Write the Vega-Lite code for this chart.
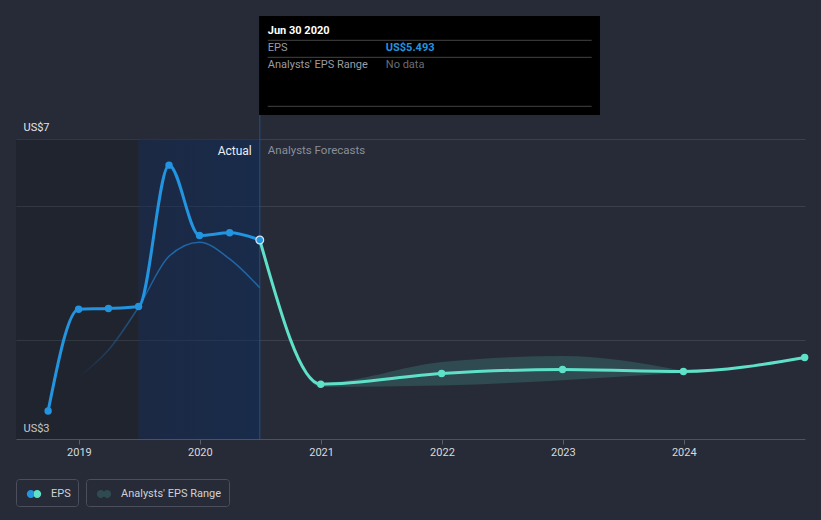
{
  "$schema": "https://vega.github.io/schema/vega-lite/v6.json",
  "autosize": {"type": "none"},
  "width": 789,
  "height": 423,
  "padding": {"left": 16, "top": 16, "right": 16, "bottom": 81},
  "background": "#262b37",
  "config": {
    "view": {"stroke": null},
    "font": "Roboto",
    "axisX": {
      "domainColor": "#4d525e",
      "tickColor": "#5a5f6a",
      "tickSize": 5,
      "labelColor": "#d7d9de",
      "labelFontSize": 11,
      "labelPadding": 2,
      "grid": false,
      "zindex": 1
    },
    "axisY": {
      "domain": false,
      "ticks": false,
      "tickSize": 0,
      "grid": true,
      "labelAlign": "left",
      "labelBaseline": "bottom",
      "labelPadding": -7,
      "labelOffset": -6,
      "labelColor": "#e4e6ea",
      "labelFontSize": 11
    },
    "legend": {
      "orient": "none",
      "direction": "horizontal",
      "strokeColor": "#4a4f5b",
      "cornerRadius": 3,
      "padding": 7,
      "labelColor": "#cfd1d6",
      "labelFontSize": 11,
      "labelFont": "Roboto",
      "labelOffset": 9,
      "symbolStrokeWidth": 0
    }
  },
  "datasets": {
    "actual": [
      {"date": "2018-09-30", "eps": 2.94},
      {"date": "2018-12-31", "eps": 4.46},
      {"date": "2019-03-31", "eps": 4.47},
      {"date": "2019-06-30", "eps": 4.5},
      {"date": "2019-09-30", "eps": 6.61},
      {"date": "2019-12-31", "eps": 5.56},
      {"date": "2020-03-31", "eps": 5.6},
      {"date": "2020-06-30", "eps": 5.493}
    ],
    "forecast": [
      {"date": "2020-06-30", "eps": 5.493},
      {"date": "2020-12-31", "eps": 3.34},
      {"date": "2021-12-31", "eps": 3.5},
      {"date": "2022-12-31", "eps": 3.56},
      {"date": "2023-12-31", "eps": 3.53},
      {"date": "2024-12-31", "eps": 3.74}
    ],
    "range": [
      {"date": "2020-06-30", "low": 5.493, "high": 5.493},
      {"date": "2020-12-31", "low": 3.3, "high": 3.36},
      {"date": "2021-12-31", "low": 3.32, "high": 3.67},
      {"date": "2022-12-31", "low": 3.4, "high": 3.76},
      {"date": "2023-12-31", "low": 3.51, "high": 3.54}
    ],
    "past": [
      {"date": "2018-12-31", "eps": 3.45},
      {"date": "2019-03-31", "eps": 3.85},
      {"date": "2019-06-30", "eps": 4.49},
      {"date": "2019-09-30", "eps": 5.25},
      {"date": "2019-12-31", "eps": 5.46},
      {"date": "2020-03-31", "eps": 5.21},
      {"date": "2020-06-30", "eps": 4.78}
    ],
    "periods": [
      {"date": "2018-06-25", "date_end": "2019-06-30", "period": "older"},
      {"date": "2019-06-30", "date_end": "2020-06-30", "period": "last year"}
    ],
    "hover": [
      {"date": "2020-06-30", "eps": 5.493}
    ]
  },
  "layer": [
    {
      "data": {"name": "periods"},
      "transform": [{"filter": "datum.period == 'older'"}],
      "mark": {"type": "rect", "color": "#000000", "opacity": 0.14},
      "encoding": {
        "x": {
          "field": "date", "type": "temporal",
          "scale": {"type": "utc", "domain": [{"year": 2018, "month": 6, "date": 25, "utc": true}, {"year": 2025, "month": 1, "date": 1, "utc": true}]},
          "axis": {
            "title": null,
            "format": "%Y",
            "values": [{"year": 2019, "utc": true}, {"year": 2020, "utc": true}, {"year": 2021, "utc": true}, {"year": 2022, "utc": true}, {"year": 2023, "utc": true}, {"year": 2024, "utc": true}]
          }
        },
        "x2": {"field": "date_end"},
        "y": {
          "datum": 7, "type": "quantitative",
          "scale": {"domain": [2.5224, 8.8358], "nice": false, "zero": false},
          "axis": {
            "title": null,
            "values": [2.5224, 4, 6, 7],
            "labelExpr": "datum.value >= 6.9 ? 'US$7' : (datum.value < 3 ? 'US$3' : '')",
            "gridColor": {"condition": {"test": "datum.value < 3", "value": "transparent"}, "value": "#3b404c"}
          }
        },
        "y2": {"datum": 2.5224}
      }
    },
    {
      "data": {"name": "periods"},
      "transform": [{"filter": "datum.period == 'last year'"}],
      "mark": {
        "type": "rect",
        "opacity": 0.5,
        "color": {"gradient": "linear", "x1": 0, "y1": 0, "x2": 1, "y2": 0, "stops": [{"offset": 0, "color": "#112650"}, {"offset": 1, "color": "#0b2c5e"}]}
      },
      "encoding": {
        "x": {"field": "date", "type": "temporal"},
        "x2": {"field": "date_end"},
        "y": {"datum": 7, "type": "quantitative"},
        "y2": {"datum": 2.5224}
      }
    },
    {
      "data": {"name": "hover"},
      "mark": {"type": "rule", "color": "#1d528f", "strokeWidth": 1},
      "encoding": {
        "x": {"field": "date", "type": "temporal"},
        "y": {"datum": 7.358, "type": "quantitative"},
        "y2": {"datum": 2.5224}
      }
    },
    {
      "data": {"name": "range"},
      "mark": {"type": "area", "interpolate": "monotone"},
      "encoding": {
        "x": {"field": "date", "type": "temporal"},
        "y": {"field": "high", "type": "quantitative", "title": null},
        "y2": {"field": "low"},
        "fill": {
          "datum": "Analysts' EPS Range", "type": "nominal",
          "scale": {"range": ["#2f4a50"]},
          "legend": {
            "title": null,
            "legendX": 70,
            "legendY": 463,
            "symbolSize": 256,
            "symbolOffset": 3,
            "symbolType": "M -0.9 0 A 0.5 0.5 0 1 0 0.1 0 A 0.5 0.5 0 1 0 -0.9 0 Z M -0.1 0 A 0.5 0.5 0 1 0 0.9 0 A 0.5 0.5 0 1 0 -0.1 0 Z",
            "encode": {
              "symbols": {
                "update": {
                  "fill": {"value": {"gradient": "linear", "x1": 0, "y1": 0, "x2": 1, "y2": 0, "stops": [{"offset": 0, "color": "#1f5d8c"}, {"offset": 0.47, "color": "#1f5d8c"}, {"offset": 0.47, "color": "#4a8c8c"}, {"offset": 1, "color": "#4a8c8c"}]}},
                  "stroke": {"value": "transparent"}
                }
              }
            }
          }
        }
      }
    },
    {
      "data": {"name": "past"},
      "mark": {
        "type": "line",
        "interpolate": "monotone",
        "strokeWidth": 1.5,
        "color": {"gradient": "linear", "x1": 0, "y1": 0, "x2": 1, "y2": 0, "stops": [{"offset": 0, "color": "rgba(31,109,179,0)"}, {"offset": 0.45, "color": "#1e66a8"}, {"offset": 1, "color": "#1e66a8"}]}
      },
      "encoding": {
        "x": {"field": "date", "type": "temporal"},
        "y": {"field": "eps", "type": "quantitative", "title": null}
      }
    },
    {
      "data": {"name": "forecast"},
      "mark": {"type": "line", "interpolate": "monotone", "strokeWidth": 3, "color": "#5fe0c8"},
      "encoding": {
        "x": {"field": "date", "type": "temporal"},
        "y": {"field": "eps", "type": "quantitative", "title": null}
      }
    },
    {
      "data": {"name": "actual"},
      "mark": {"type": "line", "interpolate": "monotone", "strokeWidth": 3},
      "encoding": {
        "x": {"field": "date", "type": "temporal"},
        "y": {"field": "eps", "type": "quantitative", "title": null},
        "color": {
          "datum": "EPS", "type": "nominal",
          "scale": {"range": ["#2394df"]},
          "legend": {
            "title": null,
            "legendX": 0,
            "legendY": 463,
            "symbolSize": 256,
            "symbolOffset": 3,
            "symbolType": "M -0.9 0 A 0.5 0.5 0 1 0 0.1 0 A 0.5 0.5 0 1 0 -0.9 0 Z M -0.1 0 A 0.5 0.5 0 1 0 0.9 0 A 0.5 0.5 0 1 0 -0.1 0 Z",
            "encode": {
              "symbols": {
                "update": {
                  "fill": {"value": {"gradient": "linear", "x1": 0, "y1": 0, "x2": 1, "y2": 0, "stops": [{"offset": 0, "color": "#2394df"}, {"offset": 0.47, "color": "#2394df"}, {"offset": 0.47, "color": "#5fe0c8"}, {"offset": 1, "color": "#5fe0c8"}]}},
                  "stroke": {"value": "transparent"},
                  "strokeWidth": {"value": 0}
                }
              }
            }
          }
        }
      }
    },
    {
      "data": {"name": "actual"},
      "transform": [{"filter": "datum.eps != 5.493"}],
      "mark": {"type": "point", "filled": true, "size": 55, "opacity": 1, "color": "#2394df"},
      "encoding": {
        "x": {"field": "date", "type": "temporal"},
        "y": {"field": "eps", "type": "quantitative", "title": null}
      }
    },
    {
      "data": {"name": "forecast"},
      "transform": [{"filter": "datum.eps < 5"}],
      "mark": {"type": "point", "filled": true, "size": 55, "opacity": 1, "color": "#5fe0c8"},
      "encoding": {
        "x": {"field": "date", "type": "temporal"},
        "y": {"field": "eps", "type": "quantitative", "title": null}
      }
    },
    {
      "data": {"name": "hover"},
      "mark": {"type": "point", "filled": true, "size": 60, "opacity": 1, "fill": "#2394df", "stroke": "#d6e6f5", "strokeWidth": 1.2},
      "encoding": {
        "x": {"field": "date", "type": "temporal"},
        "y": {"field": "eps", "type": "quantitative", "title": null}
      }
    },
    {
      "data": {"name": "hover"},
      "mark": {"type": "text", "text": "Actual", "align": "right", "baseline": "middle", "dx": -8, "fontSize": 12, "color": "#eceef2"},
      "encoding": {
        "x": {"field": "date", "type": "temporal"},
        "y": {"datum": 6.825, "type": "quantitative"}
      }
    },
    {
      "data": {"name": "hover"},
      "mark": {"type": "text", "text": "Analysts Forecasts", "align": "left", "baseline": "middle", "dx": 8, "fontSize": 11.5, "color": "#8a8f99"},
      "encoding": {
        "x": {"field": "date", "type": "temporal"},
        "y": {"datum": 6.825, "type": "quantitative"}
      }
    },
    {
      "data": {"name": "hover"},
      "mark": {"type": "rect", "color": "#000000", "opacity": 1},
      "encoding": {
        "x": {"datum": {"year": 2020, "month": 6, "date": 28, "utc": true}, "type": "temporal"},
        "x2": {"datum": {"year": 2023, "month": 4, "date": 23, "utc": true}},
        "y": {"datum": 8.8358, "type": "quantitative"},
        "y2": {"datum": 7.358}
      }
    },
    {
      "data": {"values": [{"sep": 8.473}, {"sep": 8.219}, {"sep": 7.488}]},
      "mark": {"type": "rule", "color": "#444444", "strokeWidth": 1},
      "encoding": {
        "x": {"datum": {"year": 2020, "month": 7, "date": 24, "utc": true}, "type": "temporal"},
        "x2": {"datum": {"year": 2023, "month": 3, "date": 29, "utc": true}},
        "y": {"field": "sep", "type": "quantitative", "title": null}
      }
    },
    {
      "data": {"name": "hover"},
      "mark": {"type": "text", "text": "Jun 30 2020", "align": "left", "baseline": "middle", "dx": 8, "fontSize": 11, "fontWeight": "bold", "color": "#ffffff"},
      "encoding": {
        "x": {"field": "date", "type": "temporal"},
        "y": {"datum": 8.612, "type": "quantitative"}
      }
    },
    {
      "data": {"name": "hover"},
      "mark": {"type": "text", "text": "EPS", "align": "left", "baseline": "middle", "dx": 8, "fontSize": 11, "color": "#9a9ca2"},
      "encoding": {
        "x": {"field": "date", "type": "temporal"},
        "y": {"datum": 8.354, "type": "quantitative"}
      }
    },
    {
      "data": {"name": "hover"},
      "transform": [{"calculate": "'US$' + format(datum.eps, '.3f')", "as": "label"}],
      "mark": {"type": "text", "align": "left", "baseline": "middle", "dx": 126, "fontSize": 11, "fontWeight": "bold", "color": "#2394df"},
      "encoding": {
        "x": {"field": "date", "type": "temporal"},
        "y": {"datum": 8.354, "type": "quantitative"},
        "text": {"field": "label", "type": "nominal"}
      }
    },
    {
      "data": {"name": "hover"},
      "mark": {"type": "text", "text": "Analysts' EPS Range", "align": "left", "baseline": "middle", "dx": 8, "fontSize": 11, "color": "#9a9ca2"},
      "encoding": {
        "x": {"field": "date", "type": "temporal"},
        "y": {"datum": 8.104, "type": "quantitative"}
      }
    },
    {
      "data": {"name": "hover"},
      "mark": {"type": "text", "text": "No data", "align": "left", "baseline": "middle", "dx": 126, "fontSize": 11, "color": "#6b6d72"},
      "encoding": {
        "x": {"field": "date", "type": "temporal"},
        "y": {"datum": 8.104, "type": "quantitative"}
      }
    }
  ]
}
